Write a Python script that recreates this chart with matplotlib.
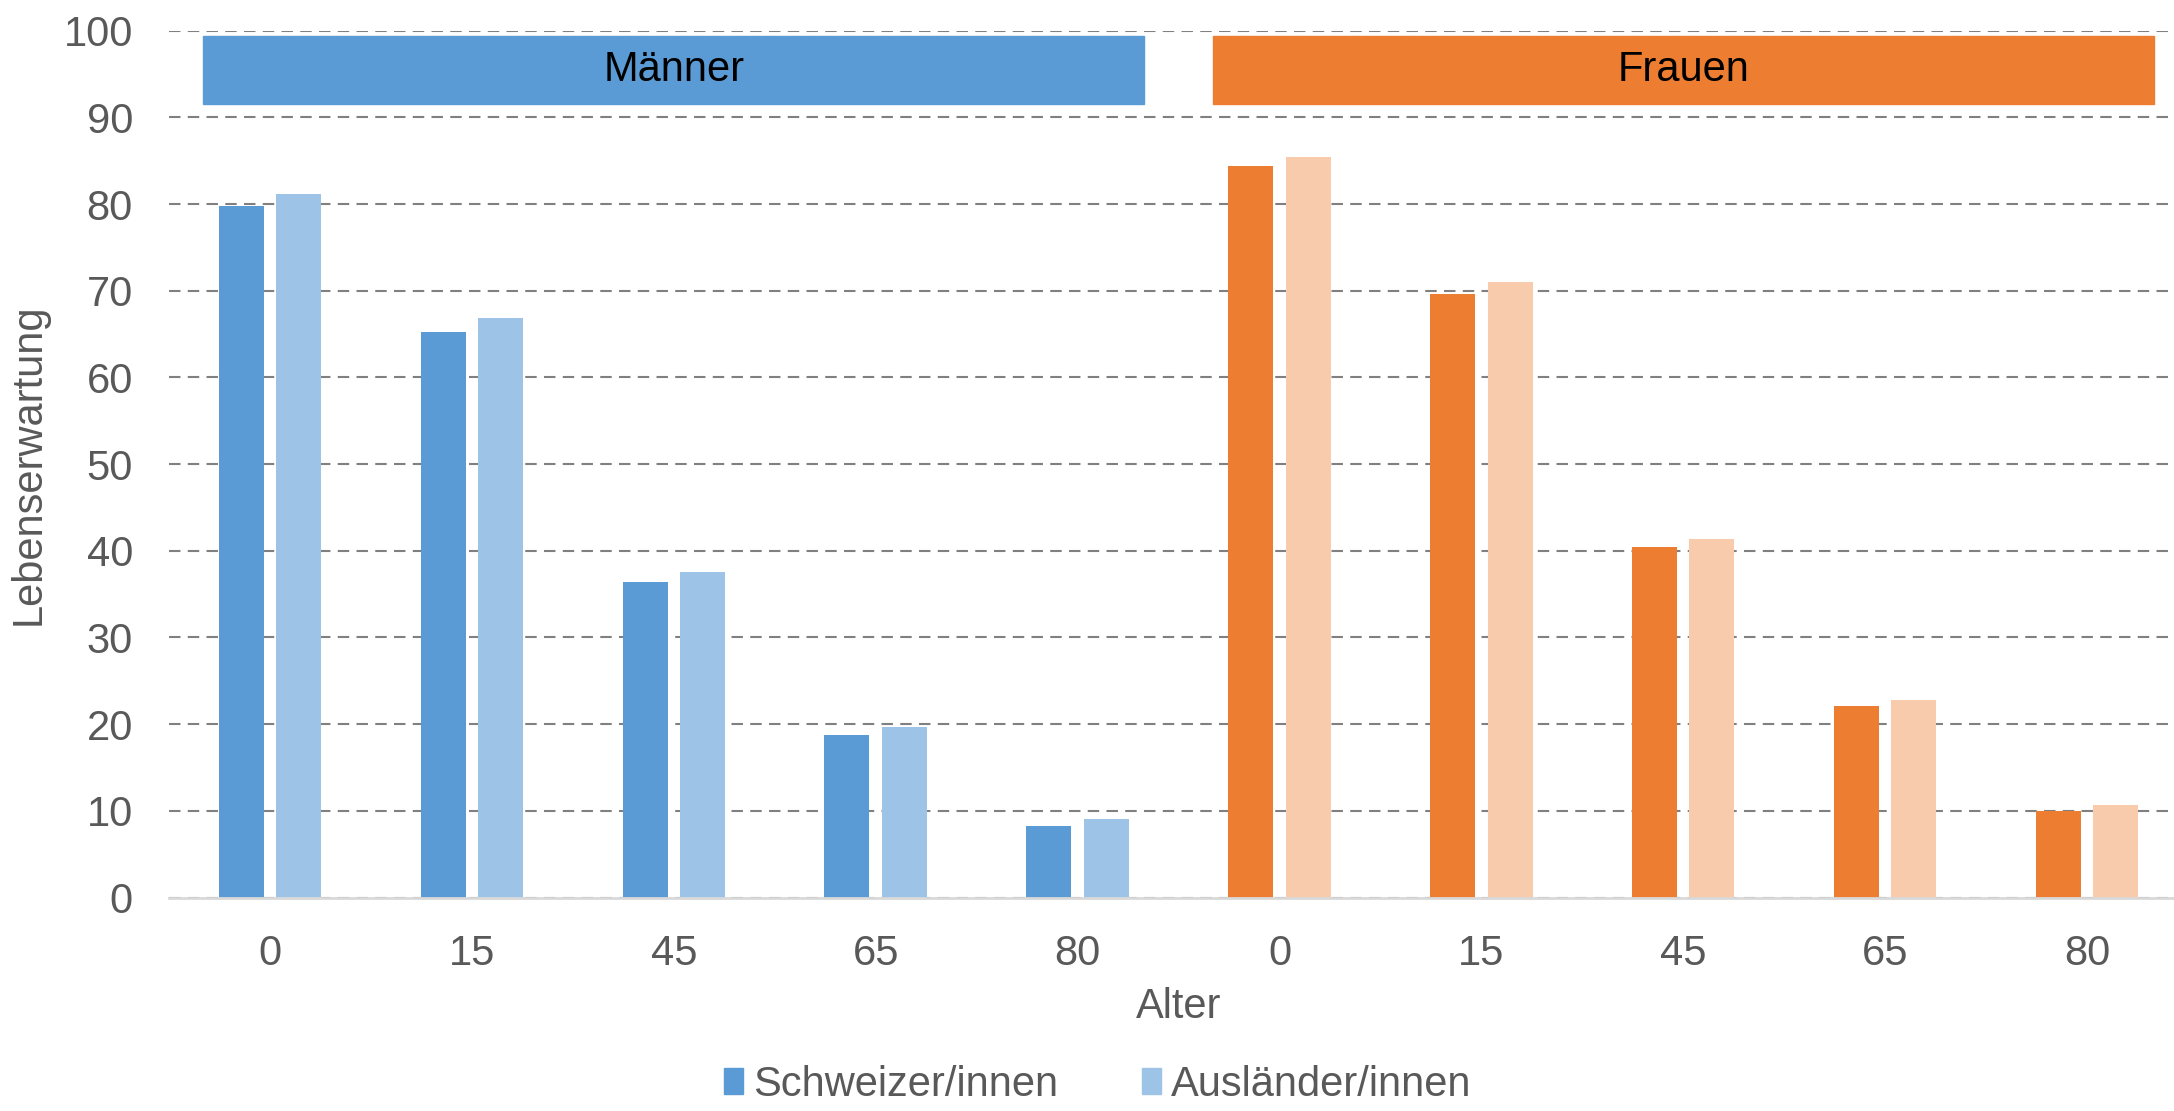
import numpy as np
import matplotlib
matplotlib.use("Agg")
import matplotlib.pyplot as plt
from matplotlib.patches import Rectangle

plt.rcParams['font.family'] = ['Liberation Sans', 'DejaVu Sans']

# data
ages = ['0', '15', '45', '65', '80']
groups = ['Männer', 'Frauen']
series = ['Schweizer/innen', 'Ausländer/innen']
men_swiss = [79.8, 65.2, 36.4, 18.7, 8.2]
men_foreign = [81.2, 66.8, 37.6, 19.7, 9.1]
women_swiss = [84.4, 69.6, 40.4, 22.1, 10.0]
women_foreign = [85.4, 71.0, 41.4, 22.8, 10.7]

dark = ['#5B9BD5', '#ED7D31']
light = ['#9DC3E6', '#F8CBAD']
txt = '#595959'

W, H = 2174, 1111
fig = plt.figure(figsize=(W / 100, H / 100), dpi=100)
left, right = 169, 2188
bottom, top = 897.5, 30.7
ax = fig.add_axes([left / W, 1 - bottom / H, (right - left) / W, (bottom - top) / H])

x = np.arange(len(ages) * 2)
width = 0.223
off = 0.142
swiss = men_swiss + women_swiss
foreign = men_foreign + women_foreign
col_s = [dark[0]] * 5 + [dark[1]] * 5
col_f = [light[0]] * 5 + [light[1]] * 5

ax.bar(x - off, swiss, width, color=col_s, zorder=3)
ax.bar(x + off, foreign, width, color=col_f, zorder=3)

# legend proxies
h1 = Rectangle((0, 0), 1, 1, color=dark[0])
h2 = Rectangle((0, 0), 1, 1, color=light[0])

# group banners
for i, g in enumerate(groups):
    c = 2 + 5 * i
    ax.add_patch(Rectangle((c - 2.33, 91.5), 4.66, 7.9, color=dark[i], zorder=4))
    ax.text(c, 95.45, g, ha='center', va='center', fontsize=30, color='black', zorder=5)

ax.set_xlim(-0.5, 9.5)
ax.set_ylim(0, 100)
ax.set_yticks(range(0, 101, 10))
ax.set_xticks(x)
ax.set_xticklabels(ages * 2)
ax.tick_params(length=0, labelsize=30, labelcolor=txt)
ax.tick_params(axis='y', pad=26)
ax.tick_params(axis='x', pad=26)
ax.yaxis.grid(True, color='#808080', lw=1.5, linestyle=(0, (5.5, 3.5)), zorder=0)
ax.set_axisbelow(True)
for s in ['top', 'right', 'left']:
    ax.spines[s].set_visible(False)
ax.spines['bottom'].set_color('#D9D9D9')
ax.spines['bottom'].set_linewidth(2)
ax.spines['bottom'].set_zorder(4)

ax.set_xlabel('Alter', fontsize=30, color=txt, labelpad=10)
ax.set_ylabel('Lebenserwartung', fontsize=30, color=txt, labelpad=11)

fig.legend([h1, h2], series, loc='lower center', bbox_to_anchor=(1098 / W, -0.028), ncol=2,
           frameon=False, fontsize=30, labelcolor=txt, handlelength=0.45, handleheight=0.6,
           handletextpad=0.25, columnspacing=2.0)

fig.savefig('out.png', dpi=100)
